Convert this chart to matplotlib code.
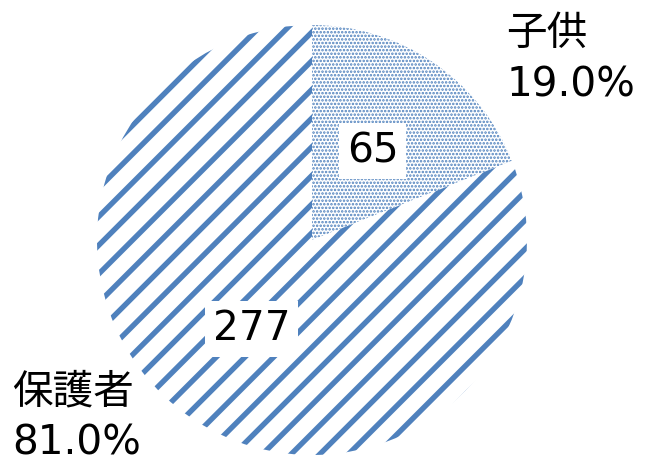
import matplotlib
matplotlib.use("Agg")
import matplotlib.pyplot as plt

# data
labels = ["子供", "保護者"]
counts = [65, 277]
pcts = ["19.0%", "81.0%"]

blue = "#4F81BD"
plt.rcParams['font.family'] = ['DejaVu Sans', 'Noto Sans CJK JP']
plt.rcParams['hatch.color'] = blue
plt.rcParams['hatch.linewidth'] = 4.5

# dpi picked so the hatch spacing matches the original texture
dpi = 86
fig = plt.figure(figsize=(645 / dpi, 462 / dpi), dpi=dpi)
ax = fig.add_axes([97 / 645, 7 / 462, 430 / 645, 430 / 462])

total = sum(counts)
wedges, _, autotexts = ax.pie(
    counts, startangle=90, counterclock=False, radius=1,
    colors=["white", "white"],
    autopct=lambda p: "%d" % round(p * total / 100),
    pctdistance=0.5,
    wedgeprops=dict(linewidth=0),
    textprops=dict(fontsize=34, color="black"),
)
hatches = ["....", "/"]
hlw = [1.4, 4.5]
for w, h, lw in zip(wedges, hatches, hlw):
    w.set_hatch(h)
    w.set_edgecolor(blue)
    w.set_linewidth(0)
    if hasattr(w, "set_hatch_linewidth"):
        w.set_hatch_linewidth(lw)
for t in autotexts:
    t.set_bbox(dict(boxstyle="square,pad=0.2", facecolor="white", edgecolor="none"))

ax.set_xlim(-1, 1)
ax.set_ylim(-1, 1)

# outer category labels
ax.text(0.905, 1.05, labels[0] + "\n" + pcts[0], ha="left", va="top",
        fontsize=34, linespacing=1.36, clip_on=False)
ax.text(-1.395, -0.615, labels[1] + "\n" + pcts[1], ha="left", va="top",
        fontsize=34, linespacing=1.36, clip_on=False)

fig.savefig("out.png", dpi=dpi)
